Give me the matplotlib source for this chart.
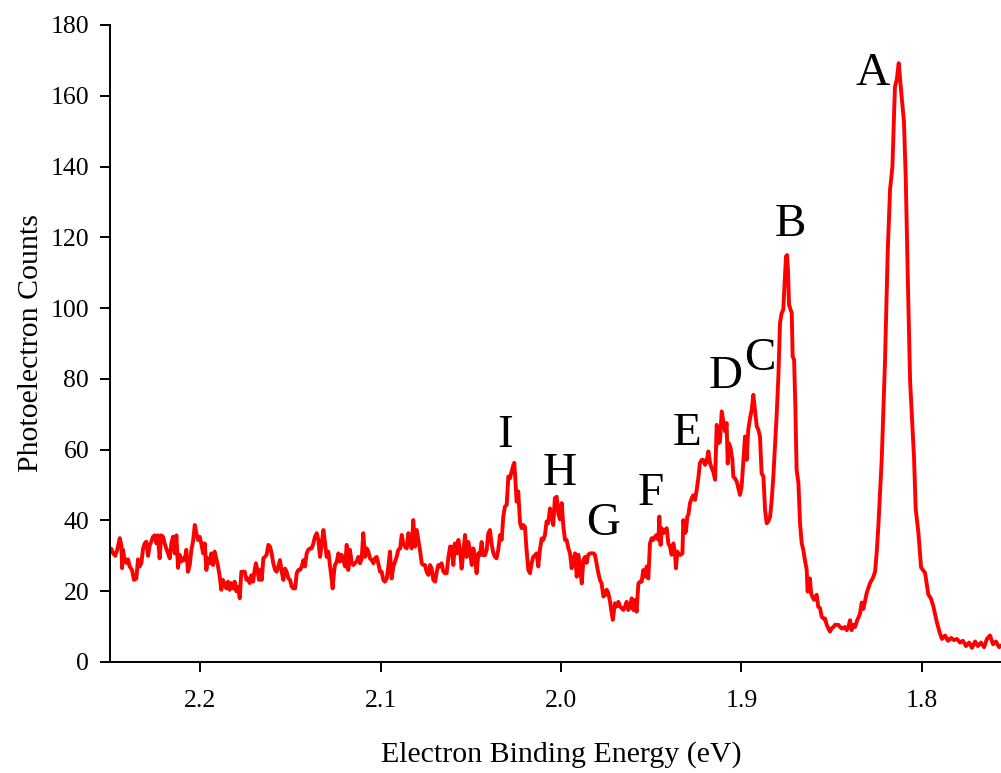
import matplotlib
matplotlib.use("Agg")
import matplotlib.pyplot as plt

plt.rcParams['font.family'] = ['Liberation Serif', 'DejaVu Serif']

# photoelectron spectrum (eV, counts)
energy = [
    2.2502, 2.2493, 2.2483, 2.2471, 2.2460, 2.2446, 2.2437, 2.2433, 2.2428, 2.2419,
    2.2410, 2.2400, 2.2391, 2.2378, 2.2367, 2.2354, 2.2345, 2.2335, 2.2326, 2.2317,
    2.2308, 2.2299, 2.2289, 2.2280, 2.2271, 2.2262, 2.2252, 2.2243, 2.2234, 2.2225,
    2.2216, 2.2206, 2.2197, 2.2188, 2.2178, 2.2169, 2.2160, 2.2151, 2.2141, 2.2132,
    2.2123, 2.2114, 2.2105, 2.2095, 2.2086, 2.2077, 2.2068, 2.2058, 2.2049, 2.2040,
    2.2030, 2.2021, 2.2012, 2.2003, 2.1994, 2.1984, 2.1975, 2.1966, 2.1957, 2.1947,
    2.1938, 2.1929, 2.1920, 2.1911, 2.1901, 2.1892, 2.1883, 2.1874, 2.1864, 2.1855,
    2.1846, 2.1837, 2.1828, 2.1818, 2.1809, 2.1800, 2.1790, 2.1781, 2.1772, 2.1763,
    2.1753, 2.1744, 2.1735, 2.1726, 2.1717, 2.1707, 2.1698,
    2.1691, 2.1681, 2.1674, 2.1667, 2.1659, 2.1650, 2.1641, 2.1632, 2.1622, 2.1613,
    2.1604, 2.1595, 2.1585, 2.1576, 2.1567, 2.1558, 2.1548, 2.1539, 2.1530, 2.1521,
    2.1511, 2.1502, 2.1493, 2.1484, 2.1474, 2.1465, 2.1456, 2.1447, 2.1437, 2.1428,
    2.1419, 2.1410, 2.1401, 2.1391, 2.1382, 2.1373, 2.1364, 2.1354, 2.1345, 2.1336,
    2.1327, 2.1317, 2.1308, 2.1299, 2.1290, 2.1280, 2.1271, 2.1266, 2.1258, 2.1253,
    2.1243, 2.1234, 2.1225, 2.1216, 2.1206, 2.1197, 2.1188, 2.1179, 2.1170, 2.1160,
    2.1151, 2.1142, 2.1133, 2.1123, 2.1114, 2.1105, 2.1096, 2.1086, 2.1077, 2.1068,
    2.1059, 2.1049, 2.1040, 2.1031, 2.1022, 2.1013, 2.1003, 2.0994, 2.0985, 2.0976,
    2.0966, 2.0957, 2.0948, 2.0939, 2.0929, 2.0920, 2.0911, 2.0902, 2.0892, 2.0883,
    2.0874, 2.0865,
    2.0855, 2.0846, 2.0837, 2.0828, 2.0819, 2.0809, 2.0800, 2.0791, 2.0782, 2.0772,
    2.0763, 2.0754, 2.0745, 2.0735, 2.0726, 2.0717, 2.0708, 2.0698, 2.0689, 2.0680,
    2.0671, 2.0662, 2.0652, 2.0643, 2.0634, 2.0625, 2.0615, 2.0606, 2.0597, 2.0588,
    2.0578, 2.0569, 2.0560, 2.0551, 2.0542, 2.0532, 2.0523, 2.0514, 2.0505, 2.0495,
    2.0486, 2.0477, 2.0468, 2.0458, 2.0449, 2.0440, 2.0431, 2.0421, 2.0412, 2.0403,
    2.0394, 2.0385, 2.0375, 2.0366, 2.0357, 2.0348, 2.0338, 2.0329, 2.0320, 2.0311,
    2.0301, 2.0292, 2.0283, 2.0274, 2.0264, 2.0259, 2.0253, 2.0246, 2.0237, 2.0227,
    2.0218, 2.0209, 2.0200, 2.0191, 2.0181, 2.0172, 2.0163, 2.0154, 2.0144, 2.0135,
    2.0126, 2.0117, 2.0107, 2.0098, 2.0089, 2.0080, 2.0071, 2.0061, 2.0052, 2.0043,
    2.0034, 2.0024, 2.0015, 2.0006, 1.9996, 1.9987, 1.9978, 1.9969, 1.9959, 1.9950,
    1.9941, 1.9932, 1.9922, 1.9913, 1.9904, 1.9895, 1.9885, 1.9876, 1.9867, 1.9858,
    1.9849, 1.9839, 1.9830, 1.9821, 1.9812, 1.9802, 1.9793, 1.9784, 1.9775, 1.9765,
    1.9756, 1.9747, 1.9738, 1.9728, 1.9719, 1.9713, 1.9706, 1.9701, 1.9691, 1.9682,
    1.9673, 1.9664, 1.9654, 1.9645, 1.9636, 1.9627, 1.9618, 1.9608, 1.9599, 1.9590,
    1.9581, 1.9571, 1.9562, 1.9553, 1.9544, 1.9534, 1.9525, 1.9516, 1.9507, 1.9497,
    1.9488, 1.9479, 1.9470, 1.9460, 1.9455, 1.9448, 1.9442, 1.9433, 1.9424, 1.9414,
    1.9405, 1.9396, 1.9387, 1.9377, 1.9368, 1.9363, 1.9355, 1.9346, 1.9337, 1.9327,
    1.9322, 1.9313, 1.9307, 1.9300, 1.9294, 1.9285, 1.9276, 1.9267, 1.9257, 1.9248,
    1.9239, 1.9230, 1.9220, 1.9211, 1.9202, 1.9193, 1.9183, 1.9174, 1.9165, 1.9156,
    1.9146,
    1.9137, 1.9128, 1.9119, 1.9109, 1.9100, 1.9091, 1.9082, 1.9076, 1.9069, 1.9060,
    1.9050, 1.9045, 1.9036, 1.9026, 1.9017, 1.9008, 1.8999, 1.8989, 1.8980, 1.8971,
    1.8962, 1.8952, 1.8943, 1.8934, 1.8925, 1.8915, 1.8906, 1.8897, 1.8888, 1.8878,
    1.8869, 1.8860, 1.8851, 1.8841, 1.8832, 1.8823, 1.8814, 1.8804, 1.8795, 1.8786,
    1.8777, 1.8768, 1.8758, 1.8753, 1.8747, 1.8742, 1.8736, 1.8727, 1.8721, 1.8716,
    1.8708, 1.8701, 1.8694, 1.8684, 1.8675, 1.8666, 1.8657, 1.8648, 1.8638, 1.8633,
    1.8625, 1.8620, 1.8614, 1.8607, 1.8598, 1.8588, 1.8583, 1.8574, 1.8564, 1.8555,
    1.8546, 1.8537, 1.8527, 1.8518, 1.8509, 1.8500, 1.8490, 1.8481, 1.8472, 1.8463,
    1.8453, 1.8444, 1.8435, 1.8426, 1.8416, 1.8407, 1.8398, 1.8389, 1.8379, 1.8370,
    1.8361,
    1.8343, 1.8333, 1.8324, 1.8305, 1.8287, 1.8269, 1.8259, 1.8250, 1.8241, 1.8222,
    1.8204, 1.8189, 1.8176, 1.8163, 1.8149, 1.8139, 1.8128, 1.8112, 1.8099, 1.8089,
    1.8078, 1.8065, 1.8053, 1.8043, 1.8034, 1.8019, 1.8004, 1.7982, 1.7964, 1.7949,
    1.7936, 1.7917, 1.7899, 1.7888, 1.7871, 1.7855, 1.7838, 1.7822, 1.7805, 1.7788,
    1.7772, 1.7755, 1.7738, 1.7722, 1.7705, 1.7689, 1.7672, 1.7655, 1.7639, 1.7622,
    1.7605, 1.7589, 1.7572, 1.7555,
]

counts = [
    31.7, 32.0, 30.7, 30.0, 31.7, 35.0, 33.0, 26.5, 31.7, 29.0,
    28.0, 29.0, 27.0, 26.0, 23.2, 23.6, 29.0, 27.0, 28.0, 32.0,
    33.5, 34.0, 30.0, 33.0, 34.0, 35.4, 35.8, 33.5, 35.8, 29.3,
    35.8, 35.4, 33.5, 32.0, 30.7, 29.3, 33.5, 35.4, 30.7, 35.8,
    26.6, 30.3, 28.4, 29.3, 28.8, 31.7, 25.5, 27.4, 31.7, 34.0,
    38.7, 36.4, 34.5, 35.4, 33.5, 30.7, 33.5, 26.0, 29.3, 27.9,
    30.7, 27.4, 31.2, 29.3, 27.0, 24.1, 20.4, 23.2, 21.8, 20.8,
    22.7, 20.4, 22.3, 20.8, 22.7, 20.0, 21.3, 18.0, 25.5, 25.5,
    25.5, 23.2, 23.6, 22.3, 24.5, 22.7, 26.0,
    27.9, 25.5, 23.2, 26.0, 23.2, 29.3, 29.7, 30.3, 33.1, 32.6,
    30.7, 27.9, 26.0, 25.5, 27.0, 28.8, 25.5, 23.2, 26.4, 25.5,
    23.6, 23.2, 21.3, 20.8, 20.8, 25.1, 26.0, 26.0, 27.0, 28.8,
    27.0, 30.7, 31.7, 32.1, 32.1, 33.5, 35.4, 36.4, 34.5, 29.7,
    33.1, 37.3, 33.5, 29.7, 31.2, 27.0, 23.2, 20.8, 25.5, 27.4,
    28.4, 30.7, 28.4, 30.3, 28.8, 27.0, 33.1, 26.0, 31.7, 27.9,
    27.4, 27.9, 28.4, 29.7, 27.9, 29.3, 36.4, 29.7, 32.1, 31.2,
    29.3, 28.8, 27.9, 29.3, 29.7, 27.9, 25.5, 25.5, 23.2, 22.7,
    23.6, 27.0, 31.2, 23.6, 27.0, 28.4, 29.7, 31.7, 32.1, 35.9,
    33.5, 32.6,
    32.1, 36.4, 34.5, 32.1, 40.1, 32.6, 37.3, 34.5, 31.7, 27.9,
    27.4, 27.4, 25.5, 24.6, 27.4, 26.4, 23.2, 22.7, 25.5, 27.4,
    27.0, 27.9, 25.5, 25.1, 25.1, 29.3, 32.6, 32.6, 27.4, 33.5,
    30.7, 34.5, 31.7, 26.4, 30.7, 35.9, 29.7, 33.9, 31.7, 27.4,
    32.1, 29.7, 25.1, 30.7, 30.2, 33.9, 30.2, 30.2, 31.7, 36.4,
    37.3, 33.5, 30.7, 29.7, 29.3, 31.7, 35.9, 34.5, 41.1, 43.9,
    44.4, 52.4, 51.9, 53.8, 55.7, 56.3, 51.5, 45.3, 48.2, 39.2,
    37.8, 38.7, 38.2, 31.7, 26.0, 25.1, 27.9, 29.7, 30.2, 30.7,
    27.0, 31.7, 34.9, 34.5, 35.9, 39.7, 39.2, 43.4, 41.5, 38.7,
    46.3, 46.7, 42.0, 40.3, 44.9, 38.3, 34.5, 34.5, 32.1, 30.7,
    26.5, 28.8, 30.7, 24.1, 30.3, 27.0, 22.2, 28.8, 29.7, 28.0,
    30.3, 30.7, 30.7, 30.7, 30.3, 27.5, 25.1, 23.2, 22.2, 18.5,
    18.9, 20.4, 19.5, 17.0, 13.8, 11.9, 14.7, 16.6, 15.7, 17.0,
    15.7, 15.2, 14.7, 15.7, 17.0, 14.7, 15.7, 18.0, 14.7, 17.5,
    14.2, 22.2, 22.7, 22.7, 26.0, 24.1, 27.0, 23.6, 33.5, 35.0,
    34.5, 35.4, 35.9, 34.5, 41.1, 33.1, 37.8, 36.4, 37.3, 37.8,
    33.5, 32.6, 30.3, 33.5, 30.7, 26.5, 31.2, 30.3, 30.3, 30.7,
    40.1, 36.4, 36.9, 41.1, 41.6, 44.9, 46.2, 47.1, 45.8, 48.6,
    51.9, 56.2, 57.1, 57.1, 55.7, 56.6, 59.5, 56.2, 54.8, 53.8,
    51.5,
    67.0, 61.8, 62.2, 70.8, 68.0, 65.2, 67.5, 56.1, 61.8, 60.4,
    57.1, 52.4, 51.9, 51.0, 49.1, 47.2, 49.5, 57.1, 63.7, 57.1,
    65.6, 68.9, 71.3, 75.5, 71.3, 66.6, 65.6, 63.7, 53.3, 52.4,
    43.0, 39.2, 39.7, 41.1, 45.8, 52.4, 60.9, 70.4, 80.7, 95.8,
    98.6, 99.5, 109.9, 114.6, 115.0, 110.8, 100.9, 99.5, 98.6, 86.3,
    85.4, 72.2, 54.3, 50.6, 39.2, 33.6, 31.7, 28.8, 26.0, 19.9,
    22.2, 23.6, 19.5, 18.5, 17.6, 18.5, 19.0, 15.6, 15.2, 12.8,
    12.3, 12.3, 10.5, 9.5, 8.6, 9.5, 9.9, 10.5, 10.5, 10.5,
    9.9, 9.5, 9.5, 9.9, 9.0, 9.9, 11.8, 9.0, 10.5, 9.9,
    11.4,
    13.6, 16.8, 15.0, 19.6, 22.3, 24.0, 25.6, 31.0, 38.3, 57.5,
    85.0, 116.0, 133.5, 140.0, 162.5, 164.5, 169.2, 159.8, 152.7, 136.7,
    109.2, 79.5, 67.4, 57.5, 43.3, 36.6, 26.7, 25.2, 19.1, 17.9,
    15.7, 11.3, 8.0, 6.5, 7.5, 6.0, 6.8, 6.2, 6.5, 5.5,
    6.0, 4.5, 5.5, 4.0, 5.8, 4.5, 5.5, 4.2, 6.5, 7.5,
    5.0, 5.8, 4.2, 4.8,
]

# peak letters and where they sit (eV, counts at baseline)
peak_names = ['A', 'B', 'C', 'D', 'E', 'F', 'G', 'H', 'I']
peak_x = [1.8273, 1.8731, 1.8897, 1.9085, 1.9302, 1.9501, 1.9767, 2.0006, 2.0310]
peak_y = [163.1, 120.4, 82.6, 77.5, 61.4, 44.4, 35.9, 50.0, 60.8]

x_ticks = [2.2, 2.1, 2.0, 1.9, 1.8]
x_ticklabels = ['2.2', '2.1', '2.0', '1.9', '1.8']
y_ticks = [0, 20, 40, 60, 80, 100, 120, 140, 160, 180]

fig = plt.figure(figsize=(10.01, 7.73), dpi=100)
ax = fig.add_axes([0.1099, 0.1436, 0.9011, 0.8241])

ax.plot(energy, counts, color='#ff0000', lw=2.8)

for name, px, py in zip(peak_names, peak_x, peak_y):
    ax.text(px, py, name, fontsize=34, ha='center', va='baseline')

ax.set_xlim(2.25, 1.75)
ax.set_ylim(0, 180)
ax.set_xticks(x_ticks)
ax.set_xticklabels(x_ticklabels)
ax.set_yticks(y_ticks)

ax.spines['top'].set_visible(False)
ax.spines['right'].set_visible(False)
for s in ['left', 'bottom']:
    ax.spines[s].set_linewidth(1.4)
ax.tick_params(axis='both', direction='out', length=7, width=1.4, labelsize=18.5)
ax.tick_params(axis='x', pad=13)
ax.tick_params(axis='y', pad=8)

ax.set_xlabel('Electron Binding Energy (eV)', fontsize=21.5, labelpad=21)
ax.set_ylabel('Photoelectron Counts', fontsize=21.5, labelpad=5)

fig.savefig('out.png', dpi=100)
